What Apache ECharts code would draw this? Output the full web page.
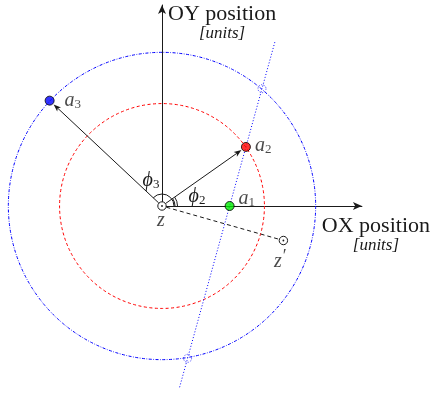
<!DOCTYPE html>
<html>
<head>
<meta charset="utf-8">
<script src="https://cdn.jsdelivr.net/npm/echarts@6/dist/echarts.min.js"></script>
<style>
  html, body { margin: 0; padding: 0; background: #ffffff; }
  #chart { width: 433px; height: 395px; }
</style>
</head>
<body>
<div id="chart"></div>
<script>
// Points a_k in polar form around z: radius [units] and angle [deg]
const pointNames = ['a1', 'a2', 'a3'];
const pointRadius = [1.32, 2, 3];
const pointAngle = [0, 35, 137];

// Angles marked at the origin
const phiNames = ['ϕ2', 'ϕ3'];
const phiAngle = [35, 137];

// Reference circles centred on z [units]
const circleRadius = [2, 3];

// Origin z and the displaced point z'
const zPoint = [0, 0];
const zPrimePoint = [2.37, -0.67];

// Ordinate limits of the line drawn through a1 and a2
const lineYRange = [-3.52, 3.21];

// Axis range (both axes start at z)
const axisMax = 3.903;

// ---------------------------------------------------------------
const SERIF = "'Liberation Serif', 'DejaVu Serif', serif";
const INK = '#1a1a1a';
const deg = Math.PI / 180;

const pts = pointRadius.map((r, i) => [r * Math.cos(pointAngle[i] * deg), r * Math.sin(pointAngle[i] * deg)]);

// Line through a1 and a2
const A = pts[0];
const D = [pts[1][0] - A[0], pts[1][1] - A[1]];
const lineEnds = lineYRange.map(y => {
  const t = (y - A[1]) / D[1];
  return [A[0] + t * D[0], y];
});

// Where that line meets the outer circle
const R = circleRadius[1];
const qa = D[0] * D[0] + D[1] * D[1];
const qb = 2 * (A[0] * D[0] + A[1] * D[1]);
const qc = A[0] * A[0] + A[1] * A[1] - R * R;
const disc = Math.sqrt(qb * qb - 4 * qa * qc);
const crossings = [(-qb - disc) / (2 * qa), (-qb + disc) / (2 * qa)].map(t => [A[0] + t * D[0], A[1] + t * D[1]]);

const circleStyles = [
  { color: '#ff0000', dash: [3, 2.5] },
  { color: '#0000ff', dash: [3, 1.5, 0.8, 1.5] }
];

// label nudges for a_k, in pixels
const labelNudge = [[1, -7], [1, -1], [7, 0]];
// phi label placement relative to z, in pixels
const phiLabelPos = [[35, -9], [-11, -25]];
// arc radii (px) for each marked angle
const phiArcRadii = [[13, 15.5], [12]];

function segmentItem(params, api, withHead, dash, startGap, endGap) {
  const p0 = api.coord([api.value(0), api.value(1)]);
  const p1 = api.coord([api.value(2), api.value(3)]);
  const dx = p1[0] - p0[0], dy = p1[1] - p0[1];
  const len = Math.hypot(dx, dy);
  const ux = dx / len, uy = dy / len;
  const s = [p0[0] + ux * startGap, p0[1] + uy * startGap];
  const e = [p1[0] - ux * endGap, p1[1] - uy * endGap];
  const children = [];
  if (withHead) {
    const hl = 7.5, hw = 2.8;
    const b = [e[0] - ux * hl, e[1] - uy * hl];
    const notch = [e[0] - ux * hl * 0.75, e[1] - uy * hl * 0.75];
    children.push({
      type: 'line',
      shape: { x1: s[0], y1: s[1], x2: notch[0], y2: notch[1] },
      style: { stroke: INK, lineWidth: 1 }
    });
    children.push({
      type: 'polygon',
      shape: { points: [e, [b[0] - uy * hw, b[1] + ux * hw], notch, [b[0] + uy * hw, b[1] - ux * hw]] },
      style: { fill: INK }
    });
  } else {
    children.push({
      type: 'line',
      shape: { x1: s[0], y1: s[1], x2: e[0], y2: e[1] },
      style: { stroke: INK, lineWidth: 1, lineDash: dash }
    });
  }
  return { type: 'group', children };
}

function ringItem(params, api) {
  const c = api.coord([api.value(0), api.value(1)]);
  return {
    type: 'group',
    children: [
      { type: 'circle', shape: { cx: c[0], cy: c[1], r: 4.2 }, style: { fill: '#ffffff', stroke: INK, lineWidth: 1 } },
      { type: 'circle', shape: { cx: c[0], cy: c[1], r: 0.9 }, style: { fill: INK } }
    ]
  };
}

const nameRich = {
  t: { fontFamily: SERIF, fontSize: 22, color: INK, lineHeight: 22 },
  u: { fontFamily: SERIF, fontSize: 17, fontStyle: 'italic', color: INK, lineHeight: 17, align: 'center' }
};

const chart = echarts.init(document.getElementById('chart'), null, { renderer: 'canvas' });

chart.setOption({
  animation: false,
  backgroundColor: '#ffffff',
  grid: { left: 162, top: 5, width: 201, height: 201, containLabel: false },
  xAxis: {
    type: 'value', min: 0, max: axisMax,
    name: '{t|OX position}\n{u|[units]}',
    nameLocation: 'end', nameGap: 14,
    nameTextStyle: { align: 'center', verticalAlign: 'top', padding: [9, 0, 0, 0], rich: nameRich },
    axisLine: { show: true, onZero: false, symbol: ['none', 'arrow'], symbolSize: [6, 9], lineStyle: { color: INK, width: 1 } },
    axisTick: { show: false }, axisLabel: { show: false }, splitLine: { show: false }
  },
  yAxis: {
    type: 'value', min: 0, max: axisMax,
    name: '{t|OY position}\n{u|[units]}',
    nameLocation: 'end', nameGap: 2,
    nameTextStyle: { align: 'left', verticalAlign: 'top', padding: [0, 0, 0, 6], rich: nameRich },
    axisLine: { show: true, onZero: false, symbol: ['none', 'arrow'], symbolSize: [6, 9], lineStyle: { color: INK, width: 1 } },
    axisTick: { show: false }, axisLabel: { show: false }, splitLine: { show: false }
  },
  series: [
    {
      // red and blue circles about z
      type: 'custom', coordinateSystem: 'cartesian2d', z: 1, silent: true,
      data: circleRadius.map(r => [zPoint[0], zPoint[1], r]),
      renderItem(params, api) {
        const c = api.coord([api.value(0), api.value(1)]);
        const r = api.size([api.value(2), 0])[0];
        const st = circleStyles[params.dataIndex];
        return {
          type: 'circle', shape: { cx: c[0], cy: c[1], r },
          style: { fill: 'none', stroke: st.color, lineWidth: 1, lineDash: st.dash }
        };
      }
    },
    {
      // dotted line through a1 and a2
      type: 'line', z: 2, silent: true, clip: false, symbol: 'none',
      data: lineEnds,
      lineStyle: { color: '#0000ff', width: 1, type: [1, 2] }
    },
    {
      // crossings of that line with the outer circle
      type: 'scatter', z: 3, silent: true, clip: false,
      symbol: 'circle', symbolSize: 8,
      data: crossings,
      itemStyle: { color: 'rgba(0,0,0,0)', borderColor: '#0000ff', borderWidth: 1, borderType: [1, 1.5] }
    },
    {
      // z -> z' dashed segment
      type: 'custom', coordinateSystem: 'cartesian2d', z: 4, silent: true,
      data: [[zPoint[0], zPoint[1], zPrimePoint[0], zPrimePoint[1]]],
      renderItem: (p, api) => segmentItem(p, api, false, [4, 3], 4.5, 4.5)
    },
    {
      // vectors z -> a2 and z -> a3
      type: 'custom', coordinateSystem: 'cartesian2d', z: 4, silent: true,
      data: [pts[1], pts[2]].map(q => [zPoint[0], zPoint[1], q[0], q[1]]),
      renderItem: (p, api) => segmentItem(p, api, true, null, 4.5, 5.5)
    },
    {
      // angle arcs and their labels
      type: 'custom', coordinateSystem: 'cartesian2d', z: 4, silent: true,
      data: phiAngle.map(a => [zPoint[0], zPoint[1], a]),
      renderItem(params, api) {
        const c = api.coord([api.value(0), api.value(1)]);
        const ang = api.value(2) * deg;
        const i = params.dataIndex;
        const children = phiArcRadii[i].map(r => ({
          type: 'arc',
          shape: { cx: c[0], cy: c[1], r, startAngle: 0, endAngle: -ang, clockwise: false },
          style: { fill: 'none', stroke: INK, lineWidth: 1 }
        }));
        const nm = phiNames[i];
        children.push({
          type: 'text',
          x: c[0] + phiLabelPos[i][0], y: c[1] + phiLabelPos[i][1],
          style: {
            text: '{i|' + nm[0] + '}{s|' + nm.slice(1) + '}',
            align: 'center', verticalAlign: 'middle',
            rich: {
              i: { fontFamily: SERIF, fontSize: 20, fontStyle: 'italic', fill: INK },
              s: { fontFamily: SERIF, fontSize: 13, fill: INK, padding: [8, 0, 0, 0] }
            }
          }
        });
        return { type: 'group', children };
      }
    },
    {
      // z and z'
      type: 'custom', coordinateSystem: 'cartesian2d', z: 5, silent: true,
      data: [zPoint, zPrimePoint],
      renderItem: ringItem
    },
    {
      type: 'scatter', z: 5, silent: true, clip: false,
      symbol: 'circle', symbolSize: 0,
      data: [zPoint, zPrimePoint].map((q, i) => ({
        value: q,
        label: {
          show: true, position: 'bottom', distance: i === 0 ? 5 : 8,
          offset: i === 0 ? [-1, 0] : [-3, 0],
          formatter: i === 0 ? '{i|z}' : '{i|z}{p|′}',
          rich: {
            i: { fontFamily: SERIF, fontSize: 20, fontStyle: 'italic', color: INK },
            p: { fontFamily: SERIF, fontSize: 18, color: INK, padding: [0, 0, 8, 1] }
          }
        }
      }))
    },
    {
      // the points a1, a2, a3
      type: 'scatter', z: 6, silent: true, clip: false,
      symbol: 'circle', symbolSize: 9,
      data: pts.map((q, i) => ({
        value: q,
        itemStyle: { color: ['#00ee00', '#ff0000', '#0000ff'][i], borderColor: '#000000', borderWidth: 1 },
        label: {
          show: true, position: 'right', distance: 3, offset: labelNudge[i],
          formatter: '{i|' + pointNames[i][0] + '}{s|' + pointNames[i].slice(1) + '}',
          rich: {
            i: { fontFamily: SERIF, fontSize: 20, fontStyle: 'italic', color: INK },
            s: { fontFamily: SERIF, fontSize: 13, color: INK, padding: [8, 0, 0, 0] }
          }
        }
      }))
    }
  ]
});
</script>
</body>
</html>
